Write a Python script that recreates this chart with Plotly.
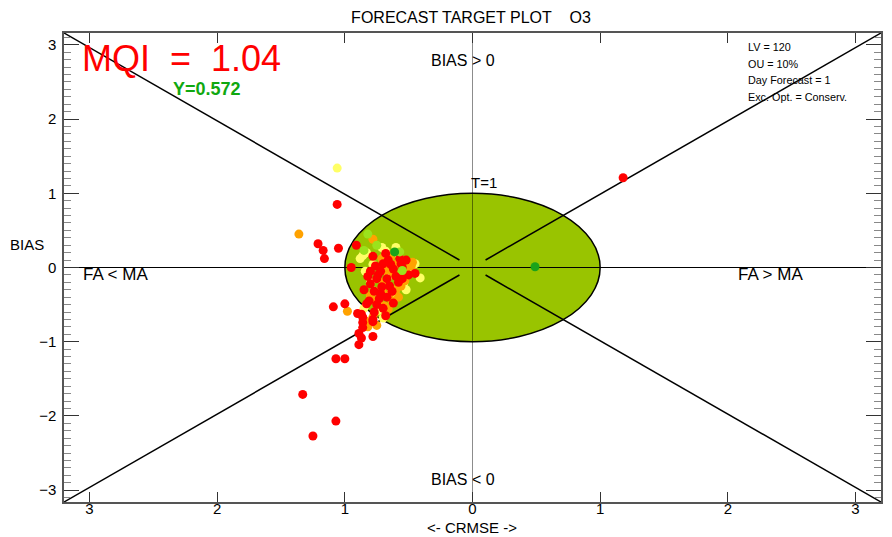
import plotly.graph_objects as go

# ---- data (CRMSE signed x, BIAS y) per station colour class ----
red_x = [1.18, -1.06, -1.21, -1.17, -1.16, -1.05, -0.91, -0.95, -1.33, -1.07, -1.25, -1.07, -1.00, -1.09, -1.00,
         -0.89, -0.87, -0.89, -0.86, -0.86, -0.78, -0.90, -0.86, -0.78, -0.77, -0.78, -0.68, -0.64, -0.57, -0.52,
         -0.45, -0.75, -0.67, -0.60, -0.77, -0.71, -0.65, -0.81, -0.73, -0.67, -0.83, -0.87, -0.78, -0.80, -0.72,
         -0.62, -0.55, -0.70, -0.58, -0.50, -0.63, -0.70, -0.75, -0.62, -0.80, -0.85, -0.68, -0.72, -0.56, -0.66,
         -0.74, -0.82, -0.76, -0.55]
red_y = [1.21, 0.85, 0.32, 0.23, 0.12, 0.26, 0.30, 0.00, -1.71, -2.07, -2.27, -1.23, -1.23, -0.53, -0.49,
         -1.04, -0.95, -0.89, -0.81, -0.74, -0.93, -0.62, -0.67, -0.70, -0.60, 0.15, 0.19, 0.04, 0.12, 0.10,
         -0.08, -0.15, -0.15, -0.12, -0.32, -0.26, -0.25, -0.45, -0.42, -0.40, -0.49, -0.63, -0.73, -0.05, -0.05,
         -0.02, 0.00, 0.05, -0.20, -0.10, -0.32, -0.55, -0.50, -0.48, -0.22, -0.30, -0.65, -0.35, 0.05, 0.10,
         -0.10, -0.12, 0.02, -0.15]

orange_x = [-1.36, -0.78, -0.71, -0.68, -0.59, -0.47, -0.56, -0.98, -0.78, -0.65, -0.63, -0.69, -0.77, -0.84, -0.80,
            -0.60, -0.70, -0.62, -0.52, -0.48, -0.75, -0.73, -0.66, -0.58, -0.64, -0.53, -0.82, -0.71, -0.76, -0.55]
orange_y = [0.45, 0.38, 0.12, -0.04, 0.05, 0.07, -0.25, -0.59, -0.67, -0.36, -0.45, -0.52, -0.62, -0.72, -0.38,
            -0.30, -0.20, -0.08, -0.02, 0.02, -0.78, -0.48, -0.56, -0.40, 0.15, -0.18, -0.80, -0.30, -0.45, -0.10]

yellow_x = [-1.06, -0.86, -0.71, -0.60, -0.78, -0.41, -0.49, -0.77, -0.84, -0.88, -0.80, -0.54, -0.60, -0.85, -0.74,
            -0.68, -0.45, -0.52, -0.83, -0.70, -0.66, -0.58]
yellow_y = [1.34, 0.16, 0.27, 0.27, 0.04, -0.14, -0.05, -0.32, -0.05, 0.12, -0.20, -0.22, -0.38, -0.55, -0.58,
            0.22, 0.05, -0.30, 0.20, -0.68, -0.12, 0.18]

lgreen_x = [-0.82, -0.85, -0.57, -0.55, -0.75]
lgreen_y = [0.45, 0.23, 0.21, -0.04, 0.30]

green_x = [0.49, -0.61]
green_y = [0.01, 0.21]

x_ticks = [-3, -2, -1, 0, 1, 2, 3]
x_tick_text = ["3", "2", "1", "0", "1", "2", "3"]
y_ticks = [-3, -2, -1, 0, 1, 2, 3]

mqi_text = "MQI\u00a0\u00a0=\u00a0\u00a01.04"
y_text = "Y=0.572"
info_lines = ["LV = 120", "OU = 10%", "Day Forecast = 1", "Exc. Opt. = Conserv."]

XR = 3.2
YR = 3.16
FONT = "Arial, Liberation Sans, sans-serif"

fig = go.Figure()
for xs, ys, col in [(yellow_x, yellow_y, "#ffff66"), (orange_x, orange_y, "#ffa200"),
                    (red_x, red_y, "#ff0000"), (lgreen_x, lgreen_y, "#9be21c"),
                    (green_x, green_y, "#1aa31a")]:
    fig.add_trace(go.Scatter(x=xs, y=ys, mode="markers",
                             marker=dict(size=9, color=col, line=dict(width=0)),
                             showlegend=False, hoverinfo="skip"))

shapes = []
shapes.append(dict(type="circle", xref="x", yref="y", x0=-1, x1=1, y0=-1, y1=1,
                   fillcolor="#99c400", line=dict(color="black", width=1.5), layer="below"))
shapes.append(dict(type="line", xref="x", yref="y", x0=-XR, x1=XR, y0=0, y1=0,
                   line=dict(color="black", width=1), layer="below"))
shapes.append(dict(type="line", xref="x", yref="y", x0=0, x1=0, y0=-YR, y1=YR,
                   line=dict(color="rgba(0,0,0,0.45)", width=1), layer="below"))
f = 0.032
for sx in (-1, 1):
    for sy in (-1, 1):
        shapes.append(dict(type="line", xref="x", yref="y",
                           x0=sx * XR * f, y0=sy * YR * f, x1=sx * XR, y1=sy * YR,
                           line=dict(color="black", width=1.5), layer="below"))

OFF = 8  # page body margin of the browser
W, H = 892 - OFF, 537 - OFF
L, R, T, B = 64 - OFF, 9, 33 - OFF, 43 - OFF
pw, ph = W - L - R, H - T - B


def px(xp):
    return (xp - OFF - L) / pw


def py(yp):
    return (H - B - (yp - OFF)) / ph


ann = []


def add(text, x, y, size=15, color="black", xanchor="center", bold=False):
    ann.append(dict(text=("<b>%s</b>" % text) if bold else text, x=px(x), y=py(y),
                    xref="paper", yref="paper", showarrow=False, xanchor=xanchor, yanchor="middle",
                    font=dict(size=size, color=color, family=FONT)))


add(mqi_text, 80, 59, size=36, color="#ff0000", xanchor="left")
add(y_text, 171, 89, size=18, color="#10a810", xanchor="left", bold=True)
add("BIAS &gt; 0", 464, 61, size=16)
add("BIAS &lt; 0", 464, 479, size=16)
add("T=1", 485, 182)
add("FA &lt; MA", 81, 274, size=17, xanchor="left")
add("FA &gt; MA", 772, 274, size=17)
for i, t in enumerate(info_lines):
    add(t, 748, 47 + i * 16.7, size=10.8, xanchor="left")
add("BIAS", 27, 244, size=15)
add("&lt;- CRMSE -&gt;", 473, 527, size=15)

fig.update_layout(
    width=W, height=H,
    margin=dict(l=L, r=R, t=T, b=B),
    plot_bgcolor="white", paper_bgcolor="white",
    title=dict(text="FORECAST TARGET PLOT\u00a0\u00a0\u00a0\u00a0O3", x=(471 - OFF) / W, xanchor="center",
               y=1 - (17 - OFF) / H, yanchor="middle", font=dict(size=16, family=FONT, color="black")),
    shapes=shapes, annotations=ann,
    font=dict(family=FONT, size=15, color="black"),
)
fig.update_xaxes(range=[-XR, XR], tickvals=x_ticks, ticktext=x_tick_text, ticks="inside", ticklen=10,
                 tickcolor="#333", showgrid=False, zeroline=False, showline=True, linecolor="#555",
                 linewidth=1.5, mirror="ticks", tickfont=dict(size=15), ticklabelstandoff=-8,
                 fixedrange=True)
fig.update_yaxes(range=[-YR, YR], tickvals=y_ticks, ticks="inside", ticklen=15, tickcolor="#333",
                 minor=dict(dtick=0.1, ticks="inside", ticklen=7, tickcolor="#888"),
                 showgrid=False, zeroline=False, showline=True, linecolor="#555", linewidth=1.5,
                 mirror="ticks", tickfont=dict(size=15), ticklabelstandoff=3, fixedrange=True)

fig.write_html("out.html")
